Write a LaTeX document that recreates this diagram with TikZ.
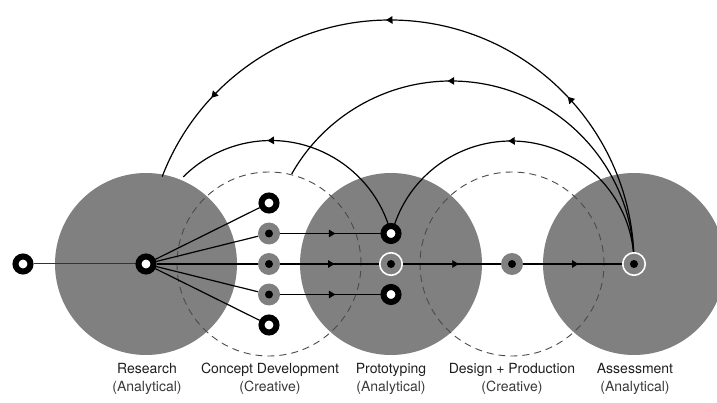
\documentclass[tikz,border=0pt]{standalone}
\usepackage{fontspec}
\setmainfont{TeX Gyre Heros}
\usetikzlibrary{arrows.meta,decorations.markings}
\definecolor{discgray}{HTML}{808080}
\definecolor{dashgray}{HTML}{4A4A4A}
\definecolor{txt}{HTML}{1E1E1E}
\definecolor{subtxt}{HTML}{3A3A3A}
\pgfdeclarelayer{bg}
\pgfdeclarelayer{mid}
\pgfsetlayers{bg,mid,main}
\tikzset{
  bigdisc/.style={circle, fill=discgray, minimum size=182pt, inner sep=0pt},
  dashdisc/.style={circle, draw=dashgray, line width=0.9pt, dash pattern=on 7pt off 5pt, minimum size=184pt, inner sep=0pt},
  ring/.style={circle, draw=black, line width=6pt, fill=white, minimum size=15pt, inner sep=0pt},
  gdot/.style={circle, fill=discgray, minimum size=22pt, inner sep=0pt,
    path picture={\fill[black] (path picture bounding box.center) circle (4pt);}},
  wring/.style={circle, draw=white, line width=1.6pt, fill=discgray, minimum size=22.5pt, inner sep=0pt,
    path picture={\fill[black] (path picture bounding box.center) circle (4pt);}},
  conn/.style={draw=black, line width=1.2pt},
  midarrow/.style={postaction={decorate}, decoration={markings,
    mark=at position #1 with {\arrow{Triangle[length=6.5pt,width=7.5pt]}}}},
  lbl/.style={align=center, text=txt, font=\fontsize{14}{17.5}\selectfont, inner sep=0pt},
}
\begin{document}
\begin{tikzpicture}[x=1pt,y=-1pt]
\useasboundingbox (0,0) rectangle (717,403);
% big discs
\begin{pgfonlayer}{bg}
  \node[bigdisc] (R) at (146,264) {};
  \node[bigdisc] (P) at (391,264) {};
  \node[bigdisc] (A) at (634,264) {};
  \node[dashdisc] (C) at (269,264) {};
  \node[dashdisc] (D) at (512,264) {};
\end{pgfonlayer}
% small nodes
\node[ring] (s) at (23,264) {};
\node[ring] (rc) at (146,264) {};
\node[ring] (c1) at (269,203) {};
\node[gdot] (c2) at (269,233.5) {};
\node[gdot] (c3) at (269,264) {};
\node[gdot] (c4) at (269,294.5) {};
\node[ring] (c5) at (269,325) {};
\node[ring] (p1) at (391,233.5) {};
\node[wring] (pc) at (391,264) {};
\node[ring] (p3) at (391,294.5) {};
\node[gdot] (dc) at (512,264) {};
\node[wring] (ac) at (634,264) {};
% labels
\node[lbl] (lR) at (147,379) {Research\\{\color{subtxt}(Analytical)}};
\node[lbl] (lC) at (270,379) {Concept Development\\{\color{subtxt}(Creative)}};
\node[lbl] (lP) at (391,379) {Prototyping\\{\color{subtxt}(Analytical)}};
\node[lbl] (lD) at (512,379) {Design + Production\\{\color{subtxt}(Creative)}};
\node[lbl] (lA) at (635,379) {Assessment\\{\color{subtxt}(Analytical)}};
\begin{pgfonlayer}{mid}
  \draw[conn, draw=black!80, line width=1pt] (s) -- (rc);
  \draw[conn] (rc) -- (c1);
  \draw[conn] (rc) -- (c2);
  \draw[conn] (rc) -- (c3);
  \draw[conn] (rc) -- (c4);
  \draw[conn] (rc) -- (c5);
  \draw[conn, midarrow=0.55] (c2) -- (p1);
  \draw[conn, midarrow=0.55] (c3) -- (pc);
  \draw[conn, midarrow=0.55] (c4) -- (p3);
  \draw[conn, midarrow=0.57] (pc) -- (dc);
  \draw[conn, midarrow=0.56] (dc) -- (ac);
  % feedback arcs
  \draw[conn, postaction={decorate}, decoration={markings,
      mark=at position 0.272 with {\arrow{Triangle[length=6.5pt,width=7.5pt]}},
      mark=at position 0.572 with {\arrow{Triangle[length=6.5pt,width=7.5pt]}},
      mark=at position 0.862 with {\arrow{Triangle[length=6.5pt,width=7.5pt]}}}]
    (ac) arc[start angle=0, end angle=-159, radius=244];
  \draw[conn, midarrow=0.605] (ac) arc[start angle=0, end angle=-150.5, radius=183];
  \draw[conn, midarrow=0.55] (ac) arc[start angle=0, end angle=-166, radius=123];
  \draw[conn, midarrow=0.64] (p1) arc[start angle=-14.5, end angle=-135, radius=124];
\end{pgfonlayer}
\end{tikzpicture}
\end{document}
